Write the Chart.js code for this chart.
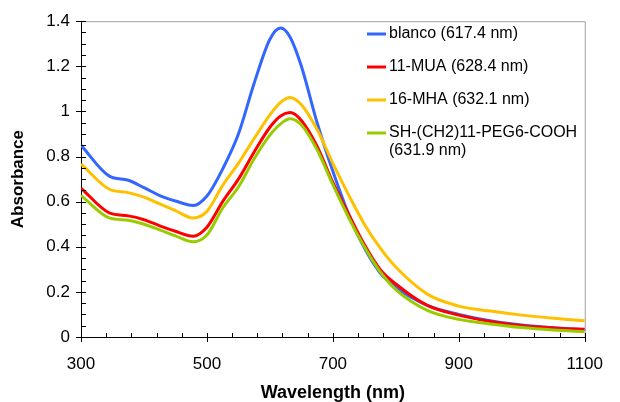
<!DOCTYPE html>
<html>
<head>
<meta charset="utf-8">
<script src="https://cdn.jsdelivr.net/npm/chart.js@4/dist/chart.umd.min.js"></script>
<style>
  html, body { margin: 0; padding: 0; background: #fff; }
  #wrap { width: 620px; height: 402px; }
</style>
</head>
<body>
<div id="wrap"><canvas id="c" width="620" height="402"></canvas></div>
<script>
// Data
const wavelengths = [300,345,375,400,425,450,478,500,525,550,575,600,617,632,650,675,700,725,750,775,800,850,900,950,1000,1050,1100];
const blanco  = [0.85,0.713,0.695,0.662,0.627,0.603,0.583,0.625,0.745,0.90,1.125,1.32,1.37,1.33,1.20,0.95,0.735,0.545,0.395,0.285,0.22,0.14,0.10,0.072,0.053,0.041,0.033];
const mua11   = [0.66,0.55,0.537,0.52,0.493,0.469,0.447,0.487,0.60,0.70,0.82,0.93,0.98,0.995,0.96,0.845,0.685,0.545,0.41,0.30,0.235,0.14,0.097,0.069,0.05,0.04,0.034];
const mha16   = [0.767,0.655,0.64,0.62,0.59,0.56,0.528,0.557,0.672,0.77,0.88,0.985,1.04,1.062,1.03,0.92,0.77,0.63,0.50,0.395,0.31,0.19,0.137,0.115,0.097,0.083,0.072];
const peg     = [0.628,0.528,0.518,0.50,0.475,0.448,0.422,0.452,0.572,0.665,0.79,0.895,0.945,0.967,0.94,0.83,0.675,0.53,0.40,0.29,0.21,0.118,0.078,0.058,0.042,0.031,0.023];

const seriesLabels = [
  ["blanco (617.4 nm)"],
  ["11-MUA (628.4 nm)"],
  ["16-MHA (632.1 nm)"],
  ["SH-(CH2)11-PEG6-COOH", "(631.9 nm)"]
];
const seriesValues = [blanco, mua11, mha16, peg];
const seriesColors = ["#3366FF", "#FF0000", "#FFC000", "#99CC00"];

const xTicks = [300, 500, 700, 900, 1100];
const yTicks = [0, 0.2, 0.4, 0.6, 0.8, 1, 1.2, 1.4];

const FONT = "'Liberation Sans', Arial, sans-serif";

const datasets = seriesValues.map((vals, i) => ({
  label: seriesLabels[i].join(" "),
  lines: seriesLabels[i],
  data: vals.map((v, k) => ({ x: wavelengths[k], y: v })),
  borderColor: seriesColors[i],
  backgroundColor: seriesColors[i],
  borderWidth: 3,
  pointRadius: 0,
  cubicInterpolationMode: 'monotone',
  fill: false,
  order: seriesValues.length - i
}));

const plain = v => String(Math.round(v * 100) / 100);

const decorPlugin = {
  id: 'decor',
  beforeDatasetsDraw(chart) {
    const { ctx, chartArea: a } = chart;
    ctx.save();
    ctx.strokeStyle = '#A0A0A0';
    ctx.lineWidth = 1;
    ctx.beginPath();
    ctx.moveTo(a.left, a.top + 0.5);
    ctx.lineTo(a.right + 0.5, a.top + 0.5);
    ctx.lineTo(a.right + 0.5, a.bottom);
    ctx.stroke();
    ctx.restore();
  },
  afterDraw(chart) {
    const { ctx, chartArea: a, scales } = chart;
    const xs = scales.x, ys = scales.y;
    ctx.save();
    ctx.strokeStyle = '#000';
    ctx.lineWidth = 1;
    ctx.beginPath();
    // y ticks
    for (let v = 0; v <= 1.4001; v += 0.05) {
      const y = Math.round(ys.getPixelForValue(v)) + 0.5;
      const major = Math.abs(v / 0.2 - Math.round(v / 0.2)) < 1e-6;
      ctx.moveTo(major ? a.left - 5 : a.left, y);
      ctx.lineTo(a.left + 5, y);
    }
    // x ticks
    for (let v = 300; v <= 1100; v += 40) {
      const x = Math.round(xs.getPixelForValue(v)) + 0.5;
      const major = (v - 300) % 200 === 0;
      ctx.moveTo(x, a.bottom - 4);
      ctx.lineTo(x, major ? a.bottom + 5 : a.bottom);
    }
    ctx.stroke();

    // legend
    const rows = [34, 67, 100, 133];
    ctx.font = '16px ' + FONT;
    ctx.textBaseline = 'middle';
    ctx.textAlign = 'left';
    chart.data.datasets.forEach((ds, i) => {
      const y = rows[i];
      ctx.strokeStyle = ds.borderColor;
      ctx.lineWidth = 3;
      ctx.beginPath();
      ctx.moveTo(367, y);
      ctx.lineTo(386, y);
      ctx.stroke();
      ctx.fillStyle = '#000';
      ds.lines.forEach((t, j) => ctx.fillText(t, 389, y + j * 18));
    });
    ctx.restore();
  }
};

new Chart(document.getElementById('c'), {
  type: 'line',
  data: { datasets },
  options: {
    responsive: false,
    animation: false,
    layout: { padding: { left: 0, top: 18, right: 23, bottom: 0 } },
    plugins: { legend: { display: false }, tooltip: { enabled: false } },
    scales: {
      x: {
        type: 'linear',
        min: 300, max: 1100,
        afterFit(s) { s.height = 65; },
        afterBuildTicks(s) { s.ticks = xTicks.map(v => ({ value: v })); },
        grid: { display: false, drawTicks: false },
        border: { display: true, color: '#000', width: 1 },
        ticks: { color: '#000', font: { family: FONT, size: 17 }, padding: 17, maxRotation: 0,
                 callback: plain },
        title: { display: true, text: 'Wavelength (nm)', color: '#000',
                 font: { family: FONT, size: 18, weight: 'bold', lineHeight: 1 },
                 padding: { top: 0, bottom: 0 } }
      },
      y: {
        type: 'linear',
        min: 0, max: 1.4,
        afterFit(s) { s.width = 81; },
        afterBuildTicks(s) { s.ticks = yTicks.map(v => ({ value: v })); },
        grid: { display: false, drawTicks: false },
        border: { display: true, color: '#000', width: 1 },
        ticks: { color: '#000', font: { family: FONT, size: 17 }, padding: 11, callback: plain },
        title: { display: true, text: 'Absorbance', color: '#000',
                 font: { family: FONT, size: 17, weight: 'bold', lineHeight: 1 },
                 padding: { top: 10, bottom: 0 } }
      }
    }
  },
  plugins: [decorPlugin]
});
</script>
</body>
</html>
